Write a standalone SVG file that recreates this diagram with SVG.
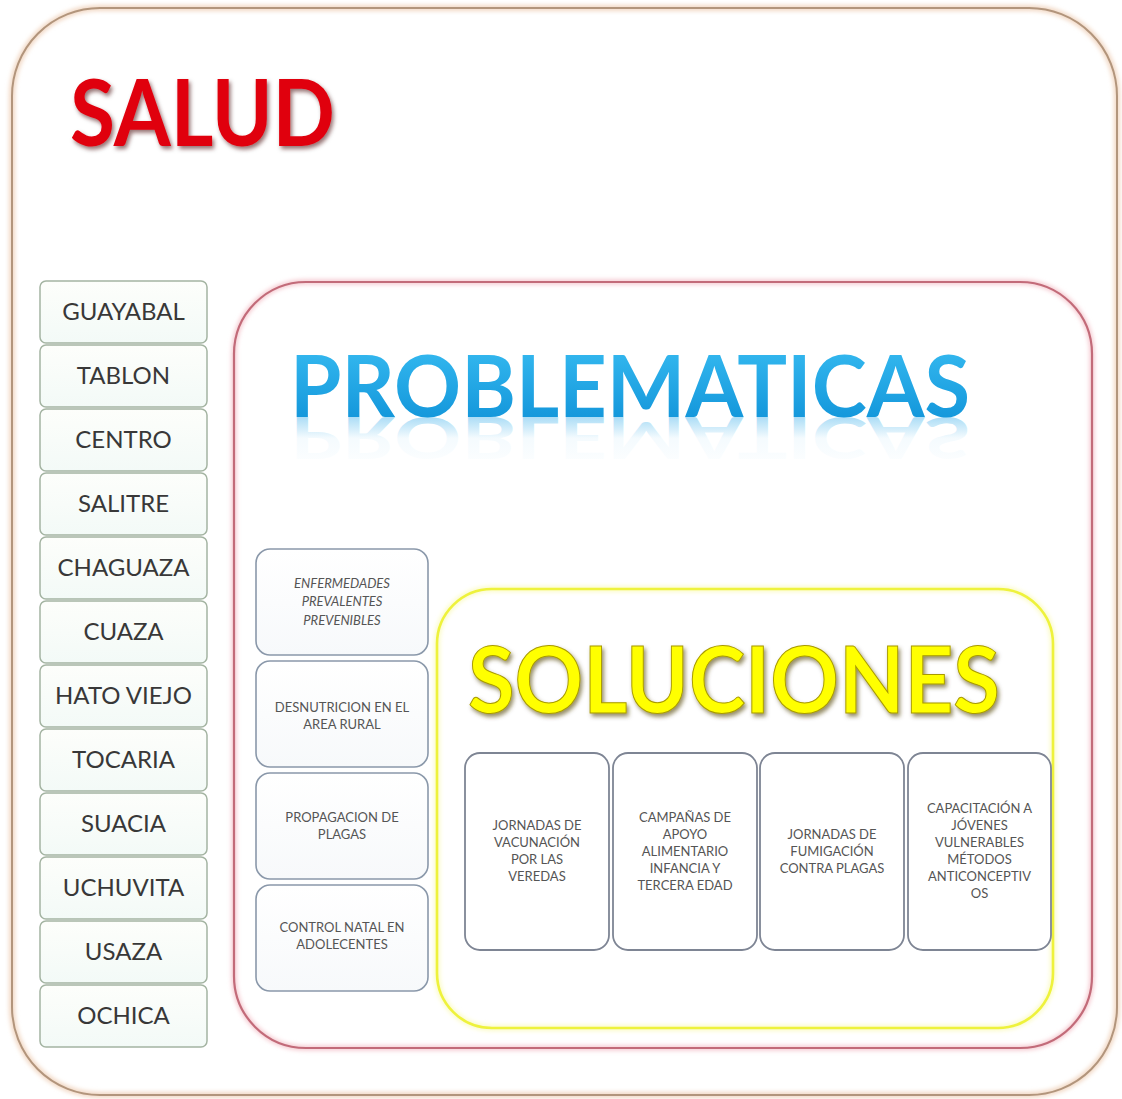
<svg xmlns="http://www.w3.org/2000/svg" width="1122" height="1099" viewBox="0 0 1122 1099">
<defs>
<style>
.lbl{font-family:Lato,"Open Sans","Liberation Sans",sans-serif;}
.vereda rect{fill:url(#gVer);stroke:#a4b4a2;stroke-width:1.5;}
.vereda text{font-size:24px;fill:#383838;text-anchor:middle;}
.prob rect{fill:url(#gProb);stroke:#8a98aa;stroke-width:1.6;}
.prob text{font-size:13px;fill:#555;text-anchor:middle;}
.sol rect{fill:#fff;stroke:#7e8594;stroke-width:1.8;}
.sol text{font-size:13px;fill:#555;text-anchor:middle;}
</style>
<linearGradient id="gVer" x1="0" y1="0" x2="0" y2="1"><stop offset="0" stop-color="#fdfefb"/><stop offset="1" stop-color="#f3faf7"/></linearGradient>
<linearGradient id="gProb" x1="0" y1="0" x2="0" y2="1"><stop offset="0" stop-color="#ffffff"/><stop offset="1" stop-color="#f7f9fb"/></linearGradient>
<linearGradient id="gBlue" x1="0" y1="0" x2="0" y2="1"><stop offset="0" stop-color="#3cc0f4"/><stop offset="1" stop-color="#0c8fd6"/></linearGradient>
<linearGradient id="gRefl" x1="0" y1="0" x2="0" y2="1"><stop offset="0" stop-color="#2aa8e8" stop-opacity="0"/><stop offset="0.5" stop-color="#2aa8e8" stop-opacity="0.05"/><stop offset="1" stop-color="#2aa8e8" stop-opacity="0.6"/></linearGradient>
<filter id="shRed" x="-10%" y="-20%" width="130%" height="150%"><feDropShadow dx="2" dy="3" stdDeviation="2" flood-color="#400000" flood-opacity="0.55"/></filter>
<filter id="shYel" x="-10%" y="-20%" width="130%" height="150%"><feDropShadow dx="2" dy="3" stdDeviation="2" flood-color="#504000" flood-opacity="0.6"/></filter>
<filter id="glow" x="-5%" y="-5%" width="110%" height="110%"><feGaussianBlur stdDeviation="2"/></filter>
</defs>
<rect width="1122" height="1099" fill="#ffffff"/>
<g id="salud">
<rect x="12" y="8" width="1105" height="1087" rx="88" fill="none" stroke="#f2d8c4" stroke-width="6" filter="url(#glow)"/>
<rect x="12" y="8" width="1105" height="1087" rx="88" fill="none" stroke="#b2957c" stroke-width="2"/>
<text class="lbl" x="70" y="146" font-size="92" font-weight="bold" fill="#e0000f" textLength="265" lengthAdjust="spacingAndGlyphs" filter="url(#shRed)">SALUD</text>
</g>
<g id="veredas">
<g id="v-guayabal" class="vereda"><rect x="40" y="281" width="167" height="62" rx="6"/><text class="lbl" x="123.5" y="320">GUAYABAL</text></g>
<g id="v-tablon" class="vereda"><rect x="40" y="345" width="167" height="62" rx="6"/><text class="lbl" x="123.5" y="384">TABLON</text></g>
<g id="v-centro" class="vereda"><rect x="40" y="409" width="167" height="62" rx="6"/><text class="lbl" x="123.5" y="448">CENTRO</text></g>
<g id="v-salitre" class="vereda"><rect x="40" y="473" width="167" height="62" rx="6"/><text class="lbl" x="123.5" y="512">SALITRE</text></g>
<g id="v-chaguaza" class="vereda"><rect x="40" y="537" width="167" height="62" rx="6"/><text class="lbl" x="123.5" y="576">CHAGUAZA</text></g>
<g id="v-cuaza" class="vereda"><rect x="40" y="601" width="167" height="62" rx="6"/><text class="lbl" x="123.5" y="640">CUAZA</text></g>
<g id="v-hatoviejo" class="vereda"><rect x="40" y="665" width="167" height="62" rx="6"/><text class="lbl" x="123.5" y="704">HATO VIEJO</text></g>
<g id="v-tocaria" class="vereda"><rect x="40" y="729" width="167" height="62" rx="6"/><text class="lbl" x="123.5" y="768">TOCARIA</text></g>
<g id="v-suacia" class="vereda"><rect x="40" y="793" width="167" height="62" rx="6"/><text class="lbl" x="123.5" y="832">SUACIA</text></g>
<g id="v-uchuvita" class="vereda"><rect x="40" y="857" width="167" height="62" rx="6"/><text class="lbl" x="123.5" y="896">UCHUVITA</text></g>
<g id="v-usaza" class="vereda"><rect x="40" y="921" width="167" height="62" rx="6"/><text class="lbl" x="123.5" y="960">USAZA</text></g>
<g id="v-ochica" class="vereda"><rect x="40" y="985" width="167" height="62" rx="6"/><text class="lbl" x="123.5" y="1024">OCHICA</text></g>
</g>
<g id="problematicas">
<rect x="234" y="282" width="858" height="766" rx="72" fill="none" stroke="#f5c8cf" stroke-width="5" filter="url(#glow)"/>
<rect x="234" y="282" width="858" height="766" rx="72" fill="none" stroke="#c26b79" stroke-width="2.2"/>
<text class="lbl" x="290" y="417" font-size="87" font-weight="bold" fill="url(#gBlue)" textLength="680" lengthAdjust="spacingAndGlyphs">PROBLEMATICAS</text>
<text class="lbl" x="290" y="-641" transform="scale(1,-0.65)" font-size="87" font-weight="bold" fill="url(#gRefl)" textLength="680" lengthAdjust="spacingAndGlyphs">PROBLEMATICAS</text>
</g>
<g id="problemas">
<g id="p-enfermedades" class="prob"><rect x="256" y="549" width="172" height="106" rx="14"/><text class="lbl" font-style="italic"><tspan x="342" y="588">ENFERMEDADES</tspan><tspan x="342" y="606">PREVALENTES</tspan><tspan x="342" y="625">PREVENIBLES</tspan></text></g>
<g id="p-desnutricion" class="prob"><rect x="256" y="661" width="172" height="106" rx="14"/><text class="lbl"><tspan x="342" y="712">DESNUTRICION EN EL</tspan><tspan x="342" y="729">AREA RURAL</tspan></text></g>
<g id="p-propagacion" class="prob"><rect x="256" y="773" width="172" height="106" rx="14"/><text class="lbl"><tspan x="342" y="822">PROPAGACION DE</tspan><tspan x="342" y="839">PLAGAS</tspan></text></g>
<g id="p-control" class="prob"><rect x="256" y="885" width="172" height="106" rx="14"/><text class="lbl"><tspan x="342" y="932">CONTROL NATAL EN</tspan><tspan x="342" y="949">ADOLECENTES</tspan></text></g>
</g>
<g id="soluciones">
<rect x="437" y="589" width="616" height="439" rx="55" fill="none" stroke="#fbfbc8" stroke-width="6" filter="url(#glow)"/>
<rect x="437" y="589" width="616" height="439" rx="55" fill="none" stroke="#eef23c" stroke-width="2.6"/>
<text class="lbl" x="468" y="713" font-size="91" font-weight="bold" fill="#ffff00" stroke="#a89a00" stroke-width="1" textLength="532" lengthAdjust="spacingAndGlyphs" filter="url(#shYel)">SOLUCIONES</text>
</g>
<g id="soluciones-items">
<g id="s-vacunacion" class="sol"><rect x="465" y="753" width="144" height="197" rx="15"/><text class="lbl"><tspan x="537" y="830">JORNADAS DE</tspan><tspan x="537" y="847">VACUNACIÓN</tspan><tspan x="537" y="864">POR LAS</tspan><tspan x="537" y="881">VEREDAS</tspan></text></g>
<g id="s-campanas" class="sol"><rect x="613" y="753" width="144" height="197" rx="15"/><text class="lbl"><tspan x="685" y="822">CAMPAÑAS DE</tspan><tspan x="685" y="839">APOYO</tspan><tspan x="685" y="856">ALIMENTARIO</tspan><tspan x="685" y="873">INFANCIA Y</tspan><tspan x="685" y="890">TERCERA EDAD</tspan></text></g>
<g id="s-fumigacion" class="sol"><rect x="760" y="753" width="144" height="197" rx="15"/><text class="lbl"><tspan x="832" y="839">JORNADAS DE</tspan><tspan x="832" y="856">FUMIGACIÓN</tspan><tspan x="832" y="873">CONTRA PLAGAS</tspan></text></g>
<g id="s-capacitacion" class="sol"><rect x="908" y="753" width="143" height="197" rx="15"/><text class="lbl"><tspan x="979.5" y="813">CAPACITACIÓN A</tspan><tspan x="979.5" y="830">JÓVENES</tspan><tspan x="979.5" y="847">VULNERABLES</tspan><tspan x="979.5" y="864">MÉTODOS</tspan><tspan x="979.5" y="881">ANTICONCEPTIV</tspan><tspan x="979.5" y="898">OS</tspan></text></g>
</g>
<g id="connectors"/>
</svg>
